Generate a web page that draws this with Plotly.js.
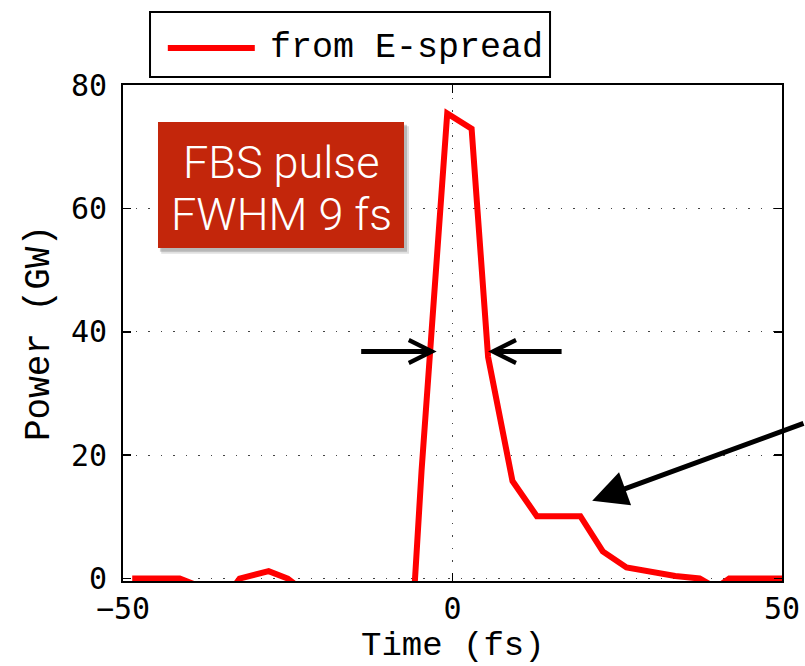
<!DOCTYPE html>
<html>
<head>
<meta charset="utf-8">
<script src="https://cdn.plot.ly/plotly-3.0.1.min.js"></script>
<style>html,body{margin:0;padding:0;background:#fff;}#chart{width:805px;height:666px;}</style>
</head>
<body>
<div id="chart"></div>
<script>
// ---- data ----
const seriesName = "from E-spread";
const timeFs = [-48.6, -45.0, -41.4, -37.8, -34.0, -32.3, -27.9, -25.0, -22.0, -9.0, -5.8, -4.7, -0.8, 2.9, 5.4, 9.1, 12.8, 19.4, 22.8, 26.4, 30.1, 33.8, 37.5, 40.0, 42.0, 45.0, 48.6, 52.0];
const powerGW = [0, 0, 0, -1.5, -2.5, 0, 1.2, 0, -2.5, -2.5, -2.0, 17.4, 75.4, 72.9, 35.9, 15.8, 10.1, 10.1, 4.4, 1.8, 1.0, 0.4, 0, -1.5, 0, 0, 0, 0];
const xTicks = [-50, 0, 50];
const yTicks = [0, 20, 40, 60, 80];
const boxLines = ["FBS pulse", "FWHM 9 fs"];
const xTitle = "Time (fs)";
const yTitle = "Power (GW)";
// FWHM marker positions (data coords) and tail arrow target
const fwhmLeft = [-2.4, 36.8];
const fwhmRight = [5.4, 36.8];
const tailPoint = [21.2, 12.6];

const mono = "Liberation Mono, Courier New, monospace";
const monoSans = "DejaVu Sans Mono, monospace";
const light = "Roboto, Open Sans, sans-serif";

const trace = {
  x: timeFs, y: powerGW, type: "scatter", mode: "lines", name: seriesName,
  line: {color: "#ff0000", width: 6}, showlegend: false, hoverinfo: "skip"
};

const axisCommon = {
  showline: true, linecolor: "#000", linewidth: 2, mirror: "ticks",
  ticks: "inside", ticklen: 8, tickwidth: 1.5, tickcolor: "#000",
  showgrid: true, gridcolor: "#444", gridwidth: 1, griddash: "1.5px,11px",
  zeroline: false, tickfont: {family: monoSans, size: 30, color: "#000"}
};

const layout = {
  width: 805, height: 666,
  margin: {l: 123, r: 23, t: 85, b: 85},
  paper_bgcolor: "#fff", plot_bgcolor: "#fff",
  xaxis: Object.assign({}, axisCommon, {
    range: [-50, 50], tickvals: xTicks, ticklabelstandoff: 0
  }),
  yaxis: Object.assign({}, axisCommon, {
    range: [-0.4, 80], tickvals: yTicks, ticklabelstandoff: 8,
    title: {text: yTitle, font: {family: mono, size: 36, color: "#000"}, standoff: 10}
  }),
  shapes: [
    // legend box
    {type: "rect", xref: "paper", yref: "paper", x0: 0.041, x1: 0.648, y0: 1.016, y1: 1.147,
     line: {color: "#000", width: 2}, fillcolor: "#fff", layer: "above"},
    {type: "line", xref: "paper", yref: "paper", x0: 0.068, x1: 0.200, y0: 1.0746, y1: 1.0746,
     line: {color: "#ff0000", width: 6}, layer: "above"},
    // shadow of the text box
    {type: "rect", xref: "paper", yref: "paper", x0: 0.058, x1: 0.434, y0: 0.660, y1: 0.917,
     line: {width: 0}, fillcolor: "rgba(0,0,0,0.12)", layer: "above"},
    {type: "rect", xref: "paper", yref: "paper", x0: 0.056, x1: 0.431, y0: 0.664, y1: 0.920,
     line: {width: 0}, fillcolor: "rgba(0,0,0,0.18)", layer: "above"},
    // text box
    {type: "rect", xref: "paper", yref: "paper", x0: 0.0531, x1: 0.4264, y0: 0.6714, y1: 0.9254,
     line: {width: 0}, fillcolor: "#c3260b", layer: "above"}
  ],
  annotations: [
    // x-axis title
    {xref: "paper", yref: "paper", x: 0.5, y: -0.131, xanchor: "center", yanchor: "middle",
     text: xTitle, showarrow: false, font: {family: mono, size: 34, color: "#000"}},
    // legend text
    {xref: "paper", yref: "paper", x: 0.220, y: 1.0746, xanchor: "left", yanchor: "middle",
     text: seriesName, showarrow: false, font: {family: mono, size: 35, color: "#000"}},
    {xref: "paper", yref: "paper", x: 0.2398, y: 0.849, xanchor: "center", yanchor: "middle", yshift: -3,
     text: boxLines[0], showarrow: false,
     font: {family: light, size: 45, color: "#fff", weight: 300}},
    {xref: "paper", yref: "paper", x: 0.2398, y: 0.744, xanchor: "center", yanchor: "middle", yshift: -3,
     text: boxLines[1], showarrow: false,
     font: {family: light, size: 45, color: "#fff", weight: 300}},
    {x: fwhmLeft[0], y: fwhmLeft[1], ax: -77, ay: 0, text: "", showarrow: true,
     arrowhead: 5, arrowsize: 0.9, arrowwidth: 5, arrowcolor: "#000"},
    {x: fwhmRight[0], y: fwhmRight[1], ax: 75, ay: 0, text: "", showarrow: true,
     arrowhead: 5, arrowsize: 0.9, arrowwidth: 5, arrowcolor: "#000"},
    {x: tailPoint[0], y: tailPoint[1], ax: 250, ay: -78, text: "", showarrow: true,
     arrowhead: 2, arrowsize: 1.4, arrowwidth: 5, arrowcolor: "#000"}
  ]
};

Plotly.newPlot("chart", [trace], layout, {displayModeBar: false, staticPlot: true});
</script>
</body>
</html>
